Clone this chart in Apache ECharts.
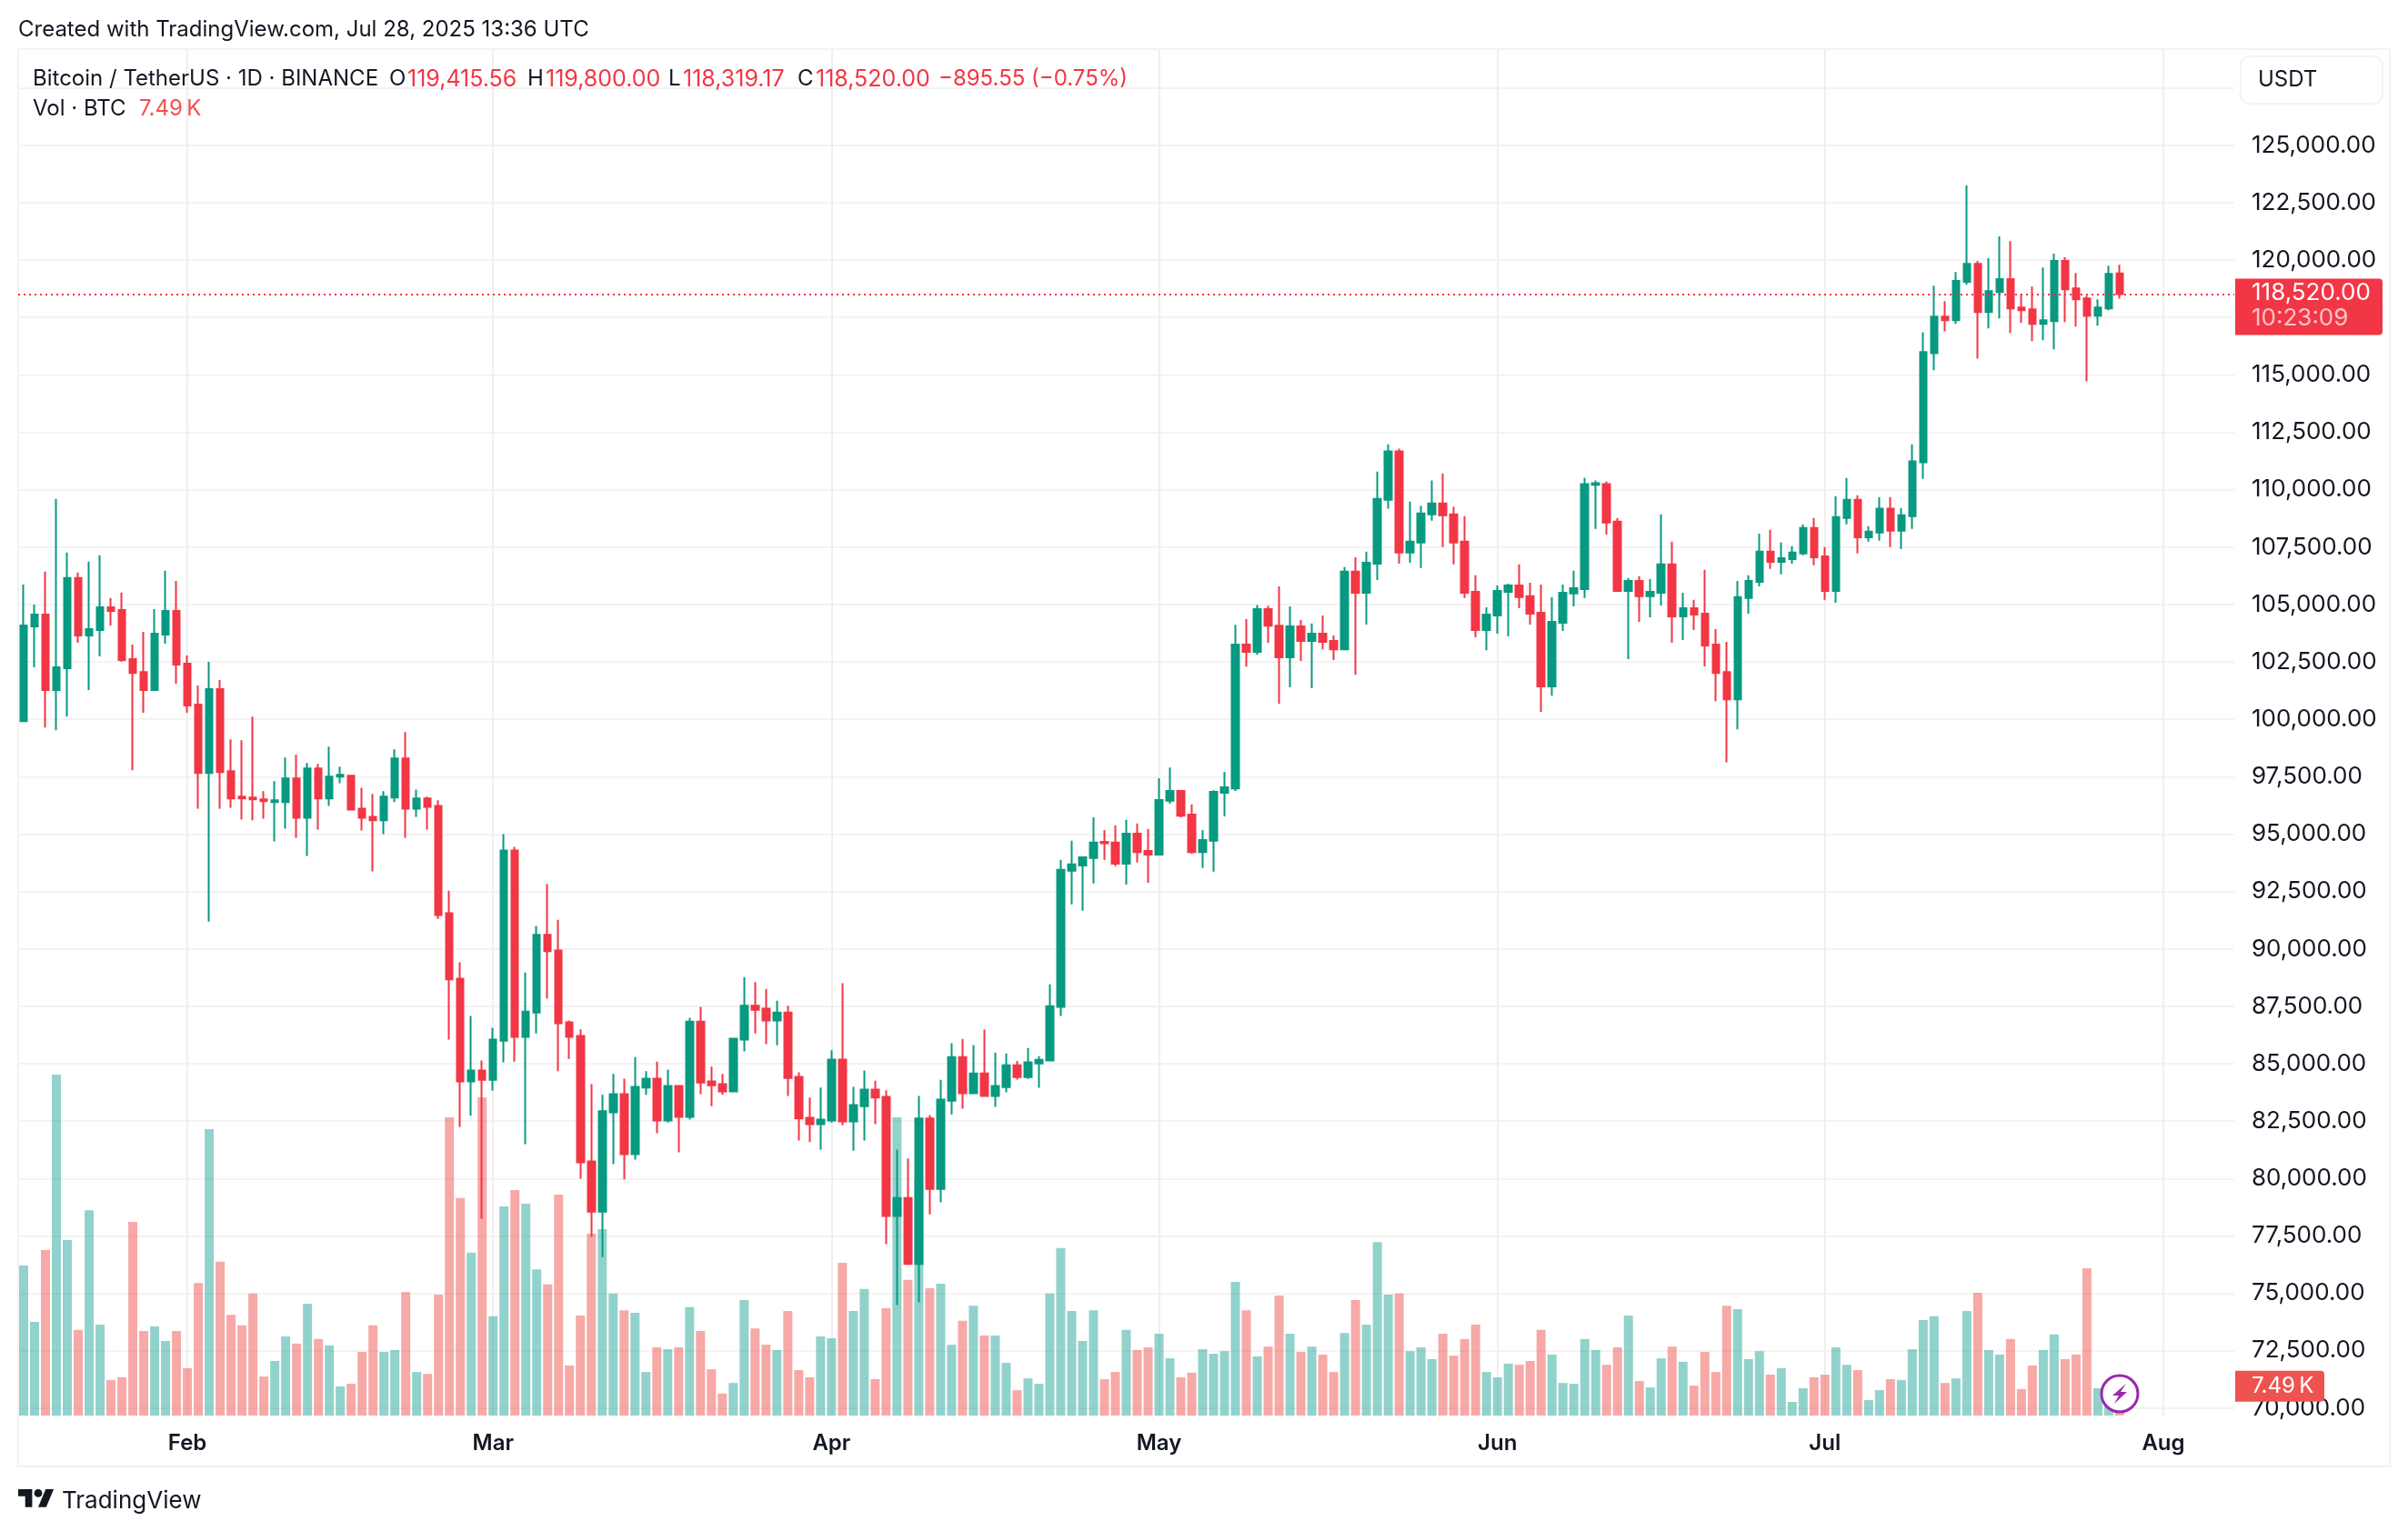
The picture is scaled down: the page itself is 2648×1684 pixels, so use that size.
<!DOCTYPE html>
<html lang="en">
<head>
  <meta charset="UTF-8">
  <title>BTCUSDT 1D</title>
  <script src="https://cdn.jsdelivr.net/npm/echarts@6/dist/echarts.min.js"></script>
  <style>
    html, body { margin: 0; background: #fff; }
    #main { width: 2648px; height: 1684px; }
  </style>
</head>
<body>
  <div id="main"></div>

  <script>
    const opens = [
      99920,104050,104560,101270,102220,106150,103650,103890,104880,104760,
      102620,102060,101270,103690,104720,102420,100640,97660,101310,97740,
      96630,96590,96510,96390,96390,97420,95710,97860,96550,97500,
      97540,96110,95750,95600,96590,98290,96110,96550,96230,91550,
      88700,84230,84700,84300,86000,94290,86170,87230,90610,89930,
      86800,86210,80740,78560,82880,83670,81060,83960,84350,82520,
      84030,82680,86830,84230,84110,83790,86050,87520,87400,86880,
      87230,84430,82640,82370,82520,85180,82490,83150,83870,83550,
      78370,79150,76280,82610,79550,83390,85290,83710,84570,83590,
      83980,84930,84420,85010,85140,87470,93400,93630,93960,94660,
      94630,93710,95020,94270,94110,96450,96880,95850,94220,94710,
      96800,96990,103250,102940,104800,104080,102700,104050,103410,103730,
      103410,103050,106430,105510,106780,109560,111670,107260,107700,108930,
      109400,108930,107740,105550,103890,104520,105550,105830,105360,104640,
      101430,104200,105480,105670,110210,110240,108610,105590,106030,105360,
      105510,106750,104480,104840,104600,103250,102060,100870,105280,105990,
      107300,106860,106980,107220,108330,107100,105590,108770,109560,107930,
      108130,109170,108210,108850,111190,115950,117540,117380,119050,119840,
      117740,118610,119170,117940,117860,117220,117340,119960,118770,118330,117580,117900,119415.56
    ];
    const closes = [
      104090,104560,101270,102260,106150,103650,103930,104880,104720,102580,
      102020,101270,103730,104720,102380,100600,97660,101310,97700,96550,
      96550,96510,96430,96470,97420,95710,97860,96550,97500,97580,
      96070,95710,95600,96630,98290,96110,96550,96190,91470,88670,
      84230,84700,84300,86050,94290,86170,87270,90610,89900,86760,
      86170,80700,78560,82930,83670,81060,83990,84350,82520,84030,
      82680,86830,84180,84060,83790,86090,87520,87350,86880,87230,
      84380,82610,82370,82560,85180,82490,83200,83870,83520,78370,
      79150,76280,82610,79550,83440,85290,83710,84570,83590,84030,
      84930,84420,85060,85170,87500,93440,93680,93990,94630,94600,
      93710,95020,94220,94110,96480,96880,95800,94220,94740,96840,
      97040,103250,102940,104800,104080,102700,104050,103410,103730,103370,
      103050,106430,105510,106820,109600,111670,107260,107740,108970,109400,
      108890,107700,105510,103890,104560,105590,105830,105320,104600,101430,
      104240,105510,105710,110240,110280,108570,105590,106030,105360,105550,
      106750,104480,104840,104560,103210,102020,100870,105320,106030,107300,
      106860,107020,107260,108330,107060,105590,108810,109560,107930,108170,
      109170,108210,108890,111230,115990,117540,117380,119090,119840,117740,
      118650,119170,117900,117820,117220,117380,119960,118730,118290,117580,117940,119400,118520
    ];
    const lows = [
      99920,102260,99640,99520,100120,103330,101270,102740,104090,102500,
      97780,100280,101270,103290,101550,100280,96110,91190,96110,96150,
      95630,95600,95670,94680,95240,94840,94050,95200,96230,97220,
      96030,95160,93370,95000,96390,94840,95750,95200,91310,86050,
      82240,82730,78240,83830,85060,85090,81500,86320,87830,84670,
      85210,79990,77460,76580,80620,79960,80820,83640,81970,82440,
      81140,82560,83670,83150,83640,83790,85530,86320,85850,85800,
      83590,81650,81580,81260,82440,82320,81210,81650,82370,77140,
      74490,76230,74610,78440,78960,82790,83040,83670,83590,83120,
      83750,84310,84340,83950,85140,87080,91940,91660,92850,93880,
      93600,92800,93760,92880,94110,96320,95730,94150,93520,93360,
      95770,96880,102290,102810,103330,100670,101390,102540,101350,103050,
      102580,103050,101940,104130,106070,109170,106780,106820,106590,108650,
      107500,106750,105280,103570,103010,103730,103610,104840,104130,100320,
      101030,103850,104920,105280,108290,108050,105590,102620,104240,104440,
      104960,103330,103450,103890,102300,100790,98130,99560,104600,105790,
      106550,106310,106780,107140,106710,105200,105080,108490,107220,107740,
      107780,107500,107420,108290,110470,115200,116900,117220,118930,115710,
      117020,117460,116830,117260,116470,116510,116110,117300,117100,114720,117140,117820,118319.17
    ];
    const highs = [
      105870,105000,106430,109600,107260,106390,106870,107140,105280,105520,
      103250,103810,104800,106470,106030,102780,101470,102500,101710,99130,
      99090,100120,96870,97300,98330,98450,98100,98060,98810,97940,
      97540,97020,96750,96870,98690,99440,96940,96630,96470,92530,
      89410,87080,85140,86560,95000,94440,88970,91000,92820,91270,
      86880,86490,84110,83640,84550,84350,85290,84670,85090,84740,
      84030,87000,87470,84870,84550,86120,88770,88550,88260,87740,
      87520,84620,83520,83960,85580,88500,83990,84700,84260,83840,
      81260,80870,83590,82760,84300,85890,86080,85810,86480,85480,
      85450,85120,85680,85330,88450,93880,94710,93990,95730,95180,
      95380,95620,95460,95230,97430,97900,96910,96290,95180,96910,
      97710,104120,104360,104980,104950,105790,104920,104320,104170,104520,
      103650,106630,107060,107300,110790,111980,111790,109480,109290,110400,
      110710,109250,108850,106270,104880,105830,105910,106750,105950,105870,
      105320,105870,106470,110520,110400,110360,108770,106150,106230,106110,
      108930,107740,105510,105200,106510,103930,103370,106030,106270,108090,
      108250,107700,107540,108490,108770,107500,109720,110510,109760,108410,
      109680,109680,109200,111980,116860,118890,118210,119480,123250,119960,
      120080,121030,120830,118530,118850,119680,120280,120120,119440,118450,118290,119760,119800
    ];
    // thousands of BTC
    const volumes = [
      39.6,24.7,43.7,90.0,46.3,22.6,54.2,24.0,9.4,10.1,
      51.1,22.3,23.5,19.7,22.3,12.5,35.0,75.6,40.6,26.6,
      23.8,32.2,10.3,14.4,20.9,19.0,29.5,20.2,18.5,7.7,
      8.4,16.8,23.8,16.8,17.3,32.6,11.5,11.0,31.9,78.7,
      57.4,43.0,84.0,26.2,55.2,59.5,55.9,38.6,34.6,58.3,
      13.2,26.4,48.0,49.2,32.2,27.8,27.1,11.5,18.0,17.5,
      18.0,28.6,22.3,12.2,5.8,8.6,30.5,23.0,18.7,17.3,
      27.6,12.0,10.1,20.9,20.4,40.3,27.6,33.4,9.6,28.3,
      78.7,35.8,62.0,33.6,34.8,18.7,25.0,29.0,21.1,21.1,
      13.9,6.7,9.8,8.4,32.2,44.2,27.6,19.7,27.8,9.6,
      11.5,22.6,17.3,18.0,21.6,15.1,10.1,11.3,17.5,16.3,
      17.0,35.3,27.8,15.6,18.2,31.7,21.6,16.8,18.2,16.1,
      11.5,21.8,30.5,24.0,45.8,31.9,32.2,17.0,18.0,14.9,
      21.6,15.8,20.2,24.0,11.5,10.1,13.7,13.4,14.4,22.6,
      16.1,8.6,8.4,20.2,17.3,13.4,18.0,26.4,9.1,7.4,
      15.1,18.2,14.2,7.9,16.8,11.5,29.0,28.1,14.9,17.0,
      10.8,12.5,3.6,7.2,10.1,10.8,18.0,13.4,12.0,4.1,
      6.7,9.6,9.4,17.5,25.2,26.2,8.6,9.8,27.6,32.4,
      17.3,16.1,20.2,7.0,13.2,17.3,21.4,14.9,16.1,38.9,
      7.2,6.0,7.49
    ];
    const priceTicks = { min: 70000, max: 127500, step: 2500 };
    const monthLabels = { '2025-02-01': 'Feb', '2025-03-01': 'Mar', '2025-04-01': 'Apr', '2025-05-01': 'May', '2025-06-01': 'Jun', '2025-07-01': 'Jul', '2025-08-01': 'Aug' };

    // daily categories, Jan 17 to Aug 7 (the axis runs past the last candle)
    const days = [];
    for (let d = Date.UTC(2025, 0, 17); d <= Date.UTC(2025, 7, 7); d += 86400000) {
      days.push(new Date(d).toISOString().slice(0, 10));
    }

    const UP = '#089981', DOWN = '#F23645', INK = '#131722', GRID = '#F3F3F3';
    const FONT = 'Inter, "Noto Sans", sans-serif';
    const left = 20, width = 2437;
    const isMonth = (i, name) => name in monthLabels;

    const chart = echarts.init(document.getElementById('main'));

    chart.setOption({
      animation: false,
      backgroundColor: '#fff',
      grid: [
        { left: left, width: width, top: 53, height: 1504 },
        { left: left, width: width, top: 96.7, height: 1452.1 }
      ],
      xAxis: [
        {
          type: 'category', gridIndex: 0, data: days,
          axisLine: { show: false },
          axisTick: { show: false },
          axisLabel: {
            interval: isMonth, formatter: v => monthLabels[v] || '',
            color: INK, fontFamily: FONT, fontSize: 24, fontWeight: 600, margin: 19
          },
          splitLine: { show: true, interval: isMonth, alignWithLabel: true, lineStyle: { color: '#EFEFEF', width: 2 } }
        },
        { type: 'category', gridIndex: 1, data: days, show: false }
      ],
      yAxis: [
        { type: 'value', gridIndex: 0, min: 0, max: 361, show: false, splitLine: { show: false } },
        {
          type: 'value', gridIndex: 1, position: 'right', scale: true,
          min: priceTicks.min, max: priceTicks.max, interval: priceTicks.step,
          axisLine: { show: false },
          axisTick: { show: false },
          axisLabel: {
            color: INK, fontFamily: FONT, fontSize: 26, margin: 19,
            formatter: v => v >= 127500 ? '' : v.toLocaleString('en-US', { minimumFractionDigits: 2 })
          },
          splitLine: { lineStyle: { color: GRID, width: 2 } }
        }
      ],
      series: [
        {
          name: 'Vol', type: 'bar', xAxisIndex: 0, yAxisIndex: 0, barWidth: 10,
          data: volumes.map((v, i) => ({
            value: v,
            itemStyle: { color: closes[i] >= opens[i] ? 'rgba(38,166,154,0.5)' : 'rgba(239,83,80,0.5)' }
          }))
        },
        {
          name: 'BTCUSDT', type: 'candlestick', xAxisIndex: 1, yAxisIndex: 1, barWidth: 8,
          data: opens.map((o, i) => [o, closes[i], lows[i], highs[i]]),
          itemStyle: { color: UP, color0: DOWN, borderColor: UP, borderColor0: DOWN, borderWidth: 2 },
          markLine: {
            silent: true, symbol: 'none', animation: false,
            label: { show: false },
            lineStyle: { color: DOWN, type: [2, 4], width: 2 },
            data: [{ yAxis: closes[closes.length - 1] }]
          }
        }
      ]
    });

    // header, badges and logo sit around the plot; the two badges follow the scales
    const priceY = chart.convertToPixel({ yAxisIndex: 1 }, closes[closes.length - 1]);
    const volY = chart.convertToPixel({ yAxisIndex: 0 }, volumes[volumes.length - 1]);
    const lastX = chart.convertToPixel({ xAxisIndex: 0 }, volumes.length - 1);

    const label = (text, x, y, size, fill, extra) => ({
      type: 'text', z: 20, silent: true, x: x, y: y,
      style: Object.assign({ text: text, fill: fill, fontFamily: FONT, fontSize: size, verticalAlign: 'middle' }, extra || {})
    });

    chart.setOption({
      graphic: [
        { type: 'rect', z: 1, silent: true, shape: { x: 20, y: 54, width: 2608, height: 1559 }, style: { fill: 'none', stroke: GRID, lineWidth: 2 } },
        { type: 'rect', z: 20, silent: true, shape: { x: 2464, y: 62, width: 156, height: 52, r: 10 }, style: { fill: '#fff', stroke: GRID, lineWidth: 2 } },
        label('USDT', 2483, 88, 24, INK),

        label('Created with TradingView.com, Jul 28, 2025 13:36 UTC', 20, 33, 24, INK),
        label('Bitcoin / TetherUS · 1D · BINANCE', 36, 87, 24, INK),
        label('O', 428, 87, 24, INK), label('119,415.56', 448, 87, 25, DOWN),
        label('H', 580, 87, 24, INK), label('119,800.00', 600, 87, 25, DOWN),
        label('L', 735, 87, 24, INK), label('118,319.17', 751, 87, 25, DOWN),
        label('C', 877, 87, 24, INK), label('118,520.00', 897, 87, 25, DOWN),
        label('−895.55 (−0.75%)', 1032, 87, 24, DOWN),
        label('Vol · BTC', 36, 120, 24, INK),
        label('7.49\u2009K', 153, 120, 24, '#EF5350'),

        { type: 'rect', z: 19, silent: true, shape: { x: 2458, y: priceY - 17, width: 162, height: 62, r: [0, 4, 4, 0] }, style: { fill: DOWN } },
        label('118,520.00', 2476, priceY - 1, 26, '#fff'),
        label('10:23:09', 2476, priceY + 27, 26, 'rgba(255,255,255,0.7)'),

        { type: 'rect', z: 19, silent: true, shape: { x: 2458, y: volY - 18, width: 98, height: 34, r: [0, 4, 4, 0] }, style: { fill: '#EF5350' } },
        label('7.49\u2009K', 2476, volY - 1, 24, '#fff'),

        // news flash marker
        { type: 'circle', z: 18, silent: true, shape: { cx: lastX, cy: 1533, r: 20 }, style: { fill: '#fff', stroke: '#9C27B0', lineWidth: 3 } },
        { type: 'polygon', z: 19, silent: true, x: lastX, y: 1533, shape: { points: [[7, -11], [-8, 2], [-1, 2], [-6, 11], [8, -2], [1, -2]] }, style: { fill: '#9C27B0' } },

        // TradingView mark
        { type: 'polygon', z: 20, silent: true, x: 20, y: 1633.6, scaleX: 1.1, scaleY: 1.1, shape: { points: [[14, 22], [7, 22], [7, 11], [0, 11], [0, 4], [14, 4]] }, style: { fill: INK } },
        { type: 'polygon', z: 20, silent: true, x: 20, y: 1633.6, scaleX: 1.1, scaleY: 1.1, shape: { points: [[28, 22], [20, 22], [27.5, 4], [35.5, 4]] }, style: { fill: INK } },
        { type: 'circle', z: 20, silent: true, shape: { cx: 42, cy: 1642.4, r: 4.4 }, style: { fill: INK } },
        label('TradingView', 68, 1651, 26, INK)
      ]
    });
  </script>
</body>
</html>
